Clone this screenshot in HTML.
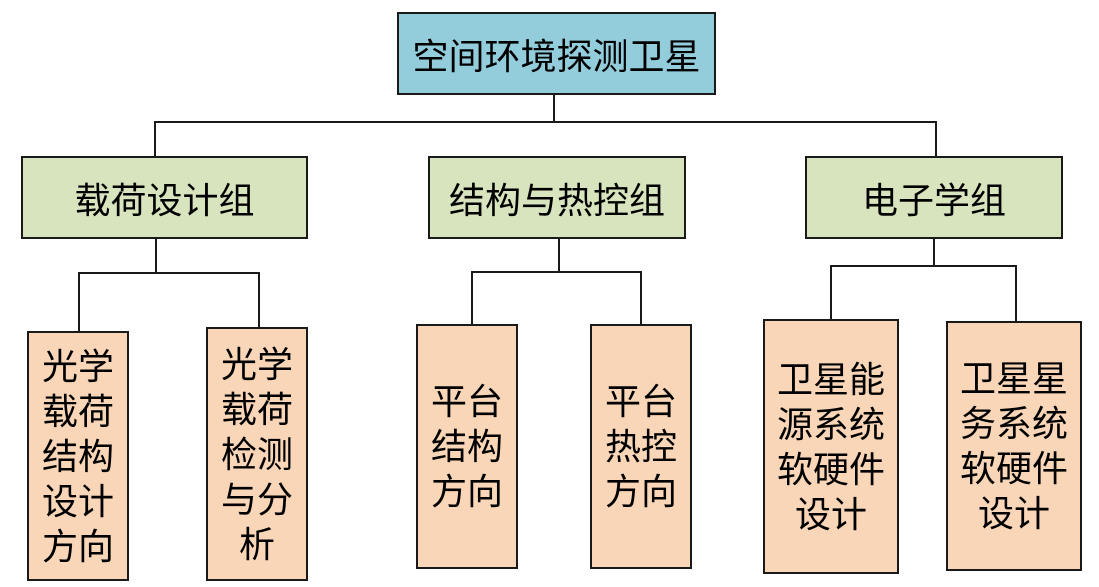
<!DOCTYPE html>
<html><head><meta charset="utf-8"><style>
body{margin:0;width:1099px;height:587px;background:#fff;position:relative;overflow:hidden;font-family:"Liberation Sans","Noto Sans CJK SC",sans-serif;}
.b{position:absolute;box-sizing:border-box;border:2px solid #1a1a1a;display:flex;align-items:center;justify-content:center;text-align:center;color:#000;}
.t{background:#93CDDC;font-size:36px;}
.g{background:#D7E4BD;font-size:36px;}
.l{background:#FAD6B8;font-size:36px;line-height:45px;}
svg{position:absolute;left:0;top:0}
</style></head><body>
<svg width="1099" height="587"><g stroke="#1a1a1a" stroke-width="2" fill="none">
<path d="M554 94V122M155 156V122H936V156"/>
<path d="M156 238V273M79 331V273H259V327"/>
<path d="M559 238V272M472 324V272H641V324"/>
<path d="M934 238V266M831 319V266H1016V321"/>
</g></svg>
<div class="b t" style="left:397px;top:12px;width:319px;height:83px">空间环境探测卫星</div>
<div class="b g" style="left:21px;top:156px;width:287px;height:83px">载荷设计组</div>
<div class="b g" style="left:428px;top:156px;width:258px;height:83px">结构与热控组</div>
<div class="b g" style="left:805px;top:156px;width:258px;height:83px">电子学组</div>
<div class="b l" style="left:27px;top:331px;width:102px;height:250px">光学<br>载荷<br>结构<br>设计<br>方向</div>
<div class="b l" style="left:206px;top:327px;width:102px;height:254px">光学<br>载荷<br>检测<br>与分<br>析</div>
<div class="b l" style="left:416px;top:324px;width:102px;height:245px">平台<br>结构<br>方向</div>
<div class="b l" style="left:590px;top:324px;width:102px;height:245px">平台<br>热控<br>方向</div>
<div class="b l" style="left:763px;top:319px;width:136px;height:255px">卫星能<br>源系统<br>软硬件<br>设计</div>
<div class="b l" style="left:946px;top:321px;width:136px;height:250px">卫星星<br>务系统<br>软硬件<br>设计</div>
</body></html>
